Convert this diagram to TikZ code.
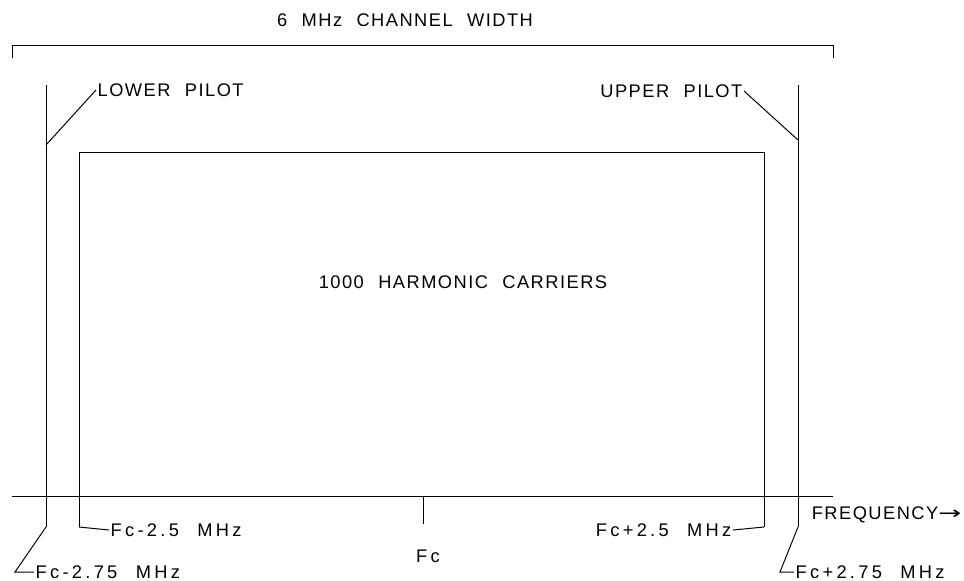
\documentclass[tikz,border=0pt]{standalone}
\usepackage{fontspec}
\setmainfont[LetterSpace=8,WordSpace=2.2]{Liberation Sans}
\newfontfamily\widefont[LetterSpace=18,WordSpace=2.2]{Liberation Sans}
\newfontfamily\symfont{DejaVu Sans}
\begin{document}
\begin{tikzpicture}[x=0.025cm,y=-0.025cm,
  lbl/.style={inner sep=1pt,font=\fontsize{13}{16}\selectfont},
  wlbl/.style={inner sep=1pt,font=\widefont\fontsize{13}{16}\selectfont},
  ln/.style={line width=0.7pt,black}]
\useasboundingbox (0,0) rectangle (964,580);
% coordinates
\coordinate (brL) at (12,58);
\coordinate (brLt) at (12,45);
\coordinate (brRt) at (833,45);
\coordinate (brR) at (833,58);
\coordinate (lpTop) at (46,85);
\coordinate (lpBot) at (46,527);
\coordinate (lpMid) at (46,145);
\coordinate (upTop) at (798,85);
\coordinate (upBot) at (798,527);
\coordinate (upMid) at (798,140);
\coordinate (rBL) at (79,527);
\coordinate (rTL) at (79,152);
\coordinate (rTR) at (764,152);
\coordinate (rBR) at (764,527);
\coordinate (axL) at (12,496);
\coordinate (axR) at (833,496);
\coordinate (fcTop) at (423,496);
\coordinate (fcBot) at (423,524);
\coordinate (k1) at (15,572);
\coordinate (k2) at (780,572);
% labels
\node[lbl] (title) at (405,20) {6 MHz CHANNEL WIDTH};
\node[lbl,anchor=west] (lpl) at (96,90) {LOWER PILOT};
\node[lbl,anchor=east] (upl) at (744,91) {UPPER PILOT};
\node[lbl] (car) at (463,282) {1000 HARMONIC CARRIERS};
\node[wlbl,anchor=west] (lm25) at (109,530) {Fc-2.5 MHz};
\node[wlbl,anchor=west] (lm275) at (34,572) {Fc-2.75 MHz};
\node[wlbl,anchor=east] (lp25) at (733,530) {Fc+2.5 MHz};
\node[wlbl,anchor=west] (lp275) at (794,572) {Fc+2.75 MHz};
\node[wlbl] (fc) at (428,556) {Fc};
\node[lbl,anchor=east] (freq) at (963,515) {FREQUENCY\scalebox{1.5}[1]{\symfont →}};
% lines
\draw[ln] (brL) -- (brLt) -- (brRt) -- (brR);
\draw[ln] (lpTop) -- (lpBot);
\draw[ln] (upTop) -- (upBot);
\draw[ln] (rBL) -- (rTL) -- (rTR) -- (rBR);
\draw[ln] (axL) -- (axR);
\draw[ln] (fcTop) -- (fcBot);
\draw[ln] (lpMid) -- (lpl.west);
\draw[ln] (upl.east) -- (upMid);
\draw[ln] (rBL) -- (lm25.west);
\draw[ln] (rBR) -- (lp25.east);
\draw[ln] (lpBot) -- (k1) -- (lm275.west);
\draw[ln] (upBot) -- (k2) -- (lp275.west);
\end{tikzpicture}
\end{document}
